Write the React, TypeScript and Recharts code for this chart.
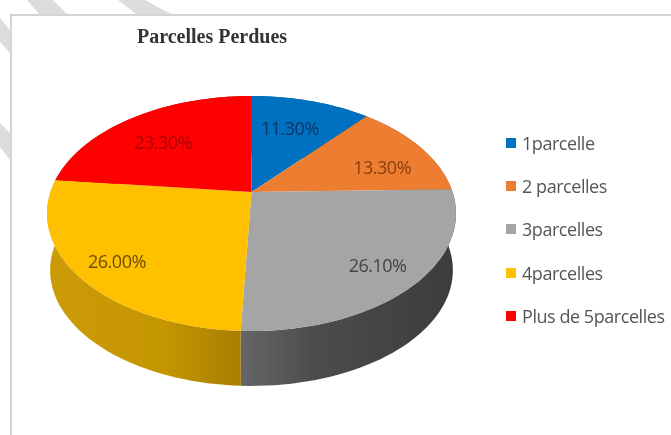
import { Cell, Legend, Pie, PieChart } from "recharts"

const categories = ["1parcelle", "2 parcelles", "3parcelles", "4parcelles", "Plus de 5parcelles"]
const shares = [11.3, 13.3, 26.1, 26.0, 23.3]
const topColors = ["#0070c0", "#ed7d31", "#a5a5a5", "#ffc000", "#ff0000"]
const labelColors = ["#0a3566", "#8c3f0c", "#444444", "#6e4c00", "#a80000"]
const wallFills = ["#00508c", "#a85820", "url(#wallGray)", "url(#wallYellow)", "#b00000"]
const labelNudge = [[-8, 7], [2, 9], [9, 6], [-9, 8], [3, 7]]

const title = "Parcelles Perdues"

const data = categories.map((name, i) => ({ name, value: shares[i] }))

// perspective of the tilted disc
const TILT = 0.183
const SQUASH = 0.565
const DEPTH = 57
const BOTTOM_SCALE = 0.985
const RAD = Math.PI / 180

function project(cx: number, cy: number, r: number, angle: number, f = 1, scale = 1, drop = 0) {
  const u = Math.cos(angle * RAD) * f
  const v = Math.sin(angle * RAD) * f
  const w = 1 / (1 + TILT * v)
  return [cx + r * u * w * scale, cy - r * SQUASH * v * w * scale + drop]
}

function arcPoints(start: number, end: number) {
  const steps = Math.max(2, Math.ceil(Math.abs(end - start) / 2))
  const out: number[] = []
  for (let i = 0; i <= steps; i++) out.push(start + ((end - start) * i) / steps)
  return out
}

function TopFace(props: any) {
  const { cx, cy, outerRadius, startAngle, endAngle, fill } = props
  const pts = arcPoints(startAngle, endAngle).map((a) => project(cx, cy, outerRadius, a).join(","))
  return <path d={`M${cx},${cy}L${pts.join("L")}Z`} fill={fill} />
}

function Wall(props: any) {
  const { cx, cy, outerRadius, startAngle, endAngle, fill } = props
  const angles = arcPoints(startAngle, endAngle)
  const upper = angles.map((a) => project(cx, cy, outerRadius, a).join(","))
  const lower = angles
    .slice()
    .reverse()
    .map((a) => project(cx, cy, outerRadius, a, 1, BOTTOM_SCALE, DEPTH).join(","))
  return <path d={`M${upper.join("L")}L${lower.join("L")}Z`} fill={fill} />
}

function renderLabel(props: any) {
  const { cx, cy, outerRadius, midAngle, index } = props
  const [x, y] = project(cx, cy, outerRadius, midAngle, 0.75)
  return (
    <text
      x={x + labelNudge[index][0]}
      y={y + labelNudge[index][1]}
      fill={labelColors[index]}
      textAnchor="middle"
      dominantBaseline="central"
      fontFamily="'Open Sans', sans-serif"
      fontSize={18}
      letterSpacing={-0.5}
    >
      {shares[index].toFixed(2)}%
    </text>
  )
}

function LegendList({ payload }: any) {
  // the wall pie also reports its items, only the top face belongs in the legend
  const items = (payload || []).filter((item: any) => topColors.includes(item.color))
  return (
    <div>
      {items.map((item: any) => (
        <div key={item.value} style={{ display: "flex", alignItems: "center", height: 43.4 }}>
          <span style={{ width: 10, height: 10, background: item.color, marginRight: 6 }} />
          <span
            style={{
              fontFamily: "'Open Sans', sans-serif",
              fontSize: 18,
              letterSpacing: -0.45,
              color: "#555555",
              whiteSpace: "nowrap",
            }}
          >
            {item.value}
          </span>
        </div>
      ))}
    </div>
  )
}

export default function App() {
  return (
    <div
      style={{
        position: "absolute",
        left: 0,
        top: 0,
        width: 671,
        height: 435,
        background: "#fff",
        overflow: "hidden",
        filter: "blur(0.6px)",
      }}
    >
      {/* watermark stripes and picture frame */}
      <svg width={671} height={435} style={{ position: "absolute", left: 0, top: 0 }}>
        <g fill="#dcdcdc">
          <polygon points="27,0 53,0 67,14 39,14" />
          <polygon points="118,0 145,0 171,14 136,14" />
          <polygon points="0,18 10,30 10,53 0,42" />
          <polygon points="0,123 10,133 10,160 0,147" />
        </g>
        <path d="M11,435V15H671" fill="none" stroke="#d4d4d4" strokeWidth={2} />
      </svg>
      <div
        style={{
          position: "absolute",
          left: 137,
          top: 25,
          fontFamily: "'Liberation Serif', serif",
          fontWeight: 700,
          fontSize: 20,
          color: "#333333",
          whiteSpace: "nowrap",
        }}
      >
        {title}
      </div>
      <PieChart width={671} height={435} margin={{ top: 0, right: 0, bottom: 0, left: 0 }} style={{ position: "absolute", left: 0, top: 0 }}>
        <defs>
          <linearGradient id="wallYellow" x1="0" y1="0" x2="1" y2="0">
            <stop offset="0" stopColor="#cc9c08" />
            <stop offset="0.6" stopColor="#c49600" />
            <stop offset="1" stopColor="#a87e02" />
          </linearGradient>
          <linearGradient id="wallGray" x1="0" y1="0" x2="1" y2="0">
            <stop offset="0" stopColor="#666668" />
            <stop offset="0.35" stopColor="#4c4c4c" />
            <stop offset="1" stopColor="#3c3c3c" />
          </linearGradient>
        </defs>
        <Pie
          data={data}
          dataKey="value"
          nameKey="name"
          cx={251.5}
          cy={192}
          outerRadius={201}
          startAngle={90}
          endAngle={-270}
          stroke="none"
          legendType="none"
          shape={Wall}
          isAnimationActive={false}
        >
          {data.map((entry, index) => (
            <Cell key={entry.name} fill={wallFills[index]} />
          ))}
        </Pie>
        <Pie
          data={data}
          dataKey="value"
          nameKey="name"
          cx={251.5}
          cy={192}
          outerRadius={201}
          startAngle={90}
          endAngle={-270}
          stroke="none"
          shape={TopFace}
          label={renderLabel}
          labelLine={false}
          isAnimationActive={false}
        >
          {data.map((entry, index) => (
            <Cell key={entry.name} fill={topColors[index]} />
          ))}
        </Pie>
        <Legend
          layout="vertical"
          content={<LegendList />}
          wrapperStyle={{ position: "absolute", left: 506, top: 121, width: 165 }}
        />
      </PieChart>
    </div>
  )
}
